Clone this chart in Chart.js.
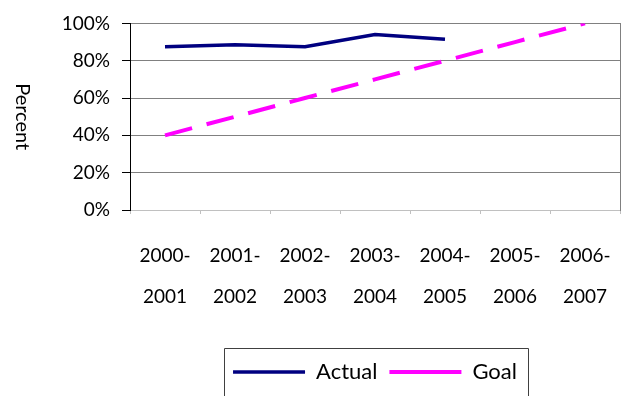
<!DOCTYPE html>
<html>
<head>
<meta charset="utf-8">
<script src="https://cdn.jsdelivr.net/npm/chart.js@4/dist/chart.umd.min.js"></script>
<style>
  html, body { margin: 0; padding: 0; background: #fff; overflow: hidden; }
  canvas { display: block; }
</style>
</head>
<body>
<canvas id="chart" width="621" height="396"></canvas>
<script>
// School years on the category axis (two-line labels)
const years = [
  ['2000-', '2001'], ['2001-', '2002'], ['2002-', '2003'], ['2003-', '2004'],
  ['2004-', '2005'], ['2005-', '2006'], ['2006-', '2007']
];
// Percent achieved and target, by year
const actual = [87.5, 88.5, 87.5, 94, 91.5, null, null];
const goal = [40, 50, 60, 70, 80, 90, 100];
// Y axis ticks
const yTicks = [0, 20, 40, 60, 80, 100];
const yTitle = 'Percent';

const FONT = 'Lato, "Open Sans", sans-serif';

// Vertical axis title, written top-to-bottom
const yTitlePlugin = {
  id: 'yTitle',
  afterDraw(chart) {
    const { ctx, chartArea } = chart;
    ctx.save();
    ctx.translate(22, (chartArea.top + chartArea.bottom) / 2 + 0);
    ctx.rotate(Math.PI / 2);
    ctx.font = '20px ' + FONT;
    ctx.fillStyle = '#000';
    ctx.textAlign = 'center';
    ctx.textBaseline = 'middle';
    ctx.fillText(yTitle, 0, 0);
    ctx.restore();
  }
};

// Frame around the legend items
const legendFramePlugin = {
  id: 'legendFrame',
  afterDraw(chart) {
    const lg = chart.legend;
    if (!lg || !lg.legendHitBoxes || !lg.legendHitBoxes.length) return;
    const boxes = lg.legendHitBoxes;
    const first = boxes[0], last = boxes[boxes.length - 1];
    const cy = first.top + first.height / 2;
    const left = Math.round(first.left - 9) + 0.5;
    const right = Math.round(last.left + last.width + 11) + 0.5;
    const top = Math.round(cy - 24) + 0.5;
    const { ctx } = chart;
    ctx.save();
    ctx.strokeStyle = '#404040';
    ctx.lineWidth = 1;
    ctx.beginPath();
    ctx.moveTo(left, chart.height + 5);
    ctx.lineTo(left, top);
    ctx.lineTo(right, top);
    ctx.lineTo(right, chart.height + 5);
    ctx.stroke();
    ctx.restore();
  }
};

new Chart(document.getElementById('chart'), {
  type: 'line',
  data: {
    labels: years,
    datasets: [
      {
        label: 'Actual',
        data: actual,
        borderColor: '#000080',
        backgroundColor: '#000080',
        borderWidth: 3.5,
        pointRadius: 0,
        tension: 0,
        spanGaps: false
      },
      {
        label: 'Goal',
        data: goal,
        borderColor: '#FF00FF',
        backgroundColor: '#FF00FF',
        borderWidth: 4,
        borderDash: [28, 15],
        pointRadius: 0,
        tension: 0
      }
    ]
  },
  options: {
    responsive: false,
    animation: false,
    devicePixelRatio: 1,
    layout: { padding: { top: 22, right: 1, left: 0, bottom: 3 } },
    plugins: {
      tooltip: { enabled: false },
      legend: {
        position: 'bottom',
        fullSize: false,
        labels: {
          usePointStyle: true,
          pointStyle: 'line',
          pointStyleWidth: 72,
          padding: 12,
          color: '#000',
          font: { family: FONT, size: 22 }
        }
      }
    },
    scales: {
      x: {
        offset: true,
        border: { color: '#c0c0c0', width: 1 },
        grid: {
          offset: true,
          drawOnChartArea: false,
          drawTicks: true,
          tickLength: 4,
          tickColor: '#c0c0c0'
        },
        ticks: {
          color: '#000',
          padding: 21,
          maxRotation: 0,
          autoSkip: false,
          font: { family: FONT, size: 19, lineHeight: '41px' }
        },
        afterFit(scale) {
          scale.height = 139;
          scale.paddingLeft = 0;
          scale.paddingRight = 0;
        }
      },
      y: {
        min: 0,
        max: 100,
        border: { color: '#000', width: 1 },
        grid: {
          color: (c) => (c.tick && c.tick.value === 0 ? 'rgba(0,0,0,0)' : '#808080'),
          tickColor: '#000',
          tickLength: 8,
          lineWidth: 1
        },
        afterBuildTicks(scale) {
          scale.ticks = yTicks.map(v => ({ value: v }));
        },
        ticks: {
          color: '#000',
          padding: 12,
          font: { family: FONT, size: 19 },
          callback: (v) => v + '%'
        },
        afterFit(scale) { scale.width = 130; }
      },
      yRight: {
        position: 'right',
        min: 0,
        max: 100,
        border: { color: '#808080', width: 1 },
        grid: { drawOnChartArea: false, drawTicks: false },
        ticks: { display: false },
        afterFit(scale) {
          scale.width = 0;
          scale.paddingTop = 0;
          scale.paddingBottom = 0;
        }
      }
    }
  },
  plugins: [yTitlePlugin, legendFramePlugin]
});
</script>
</body>
</html>
